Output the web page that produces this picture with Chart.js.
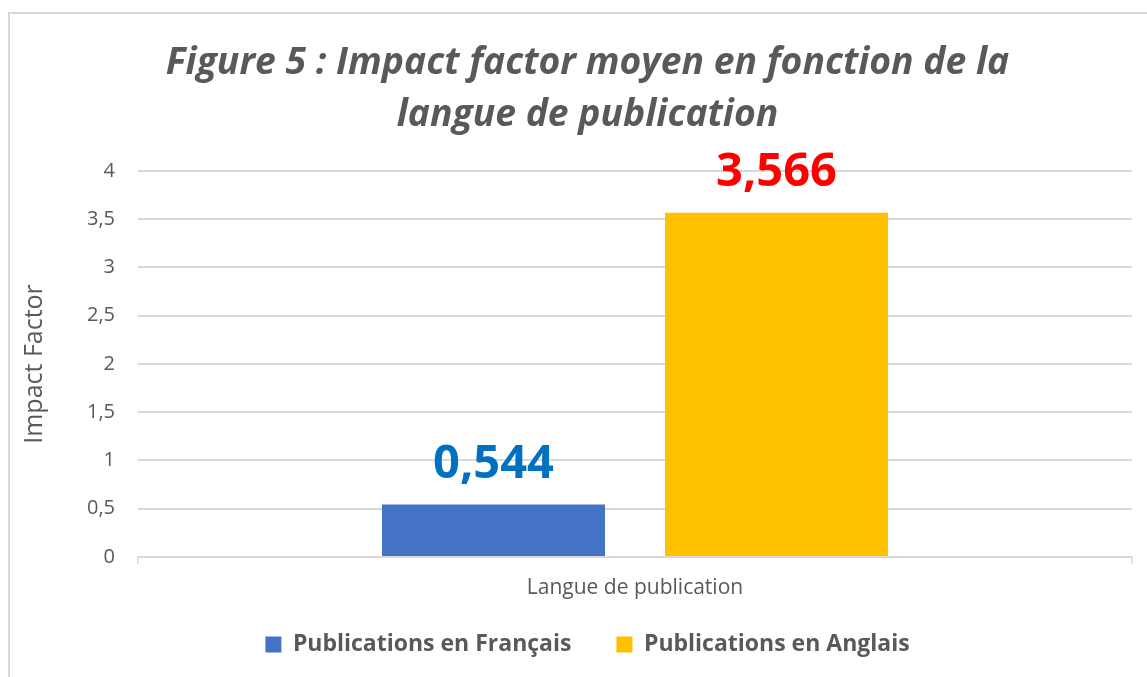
<!DOCTYPE html>
<html>
<head>
<meta charset="utf-8">
<script src="https://cdn.jsdelivr.net/npm/chart.js@4"></script>
<style>
  html, body { margin:0; padding:0; background:#fff; overflow:hidden; width:1147px; height:677px; }
  #frame { position:absolute; left:8px; top:12px; width:2000px; height:2000px; border-left:2px solid #d9d9d9; border-top:2px solid #d9d9d9; }
  #wrap { position:absolute; left:0; top:0; width:1168px; height:677px; }
</style>
</head>
<body>
<div id="frame"></div>
<div id="wrap"><canvas id="c" width="1168" height="677"></canvas></div>
<script>
const categories = ['Langue de publication'];
const seriesNames = ['Publications en Français', 'Publications en Anglais'];
const francaisValues = [0.544];
const anglaisValues = [3.566];
const seriesColors = ['#4472C4', '#FFC000'];
const labelColors = ['#0070C0', '#FF0000'];
const yMin = 0, yMax = 4, yStep = 0.5;
const titleLines = ['Figure 5 : Impact factor moyen en fonction de la', 'langue de publication'];
const yTitle = 'Impact Factor';

const fmt = v => String(v).replace('.', ',');

const valueLabels = {
  id: 'valueLabels',
  afterDatasetsDraw(chart) {
    const ctx = chart.ctx;
    ctx.save();
    ctx.font = 'bold 47px "Open Sans"';
    ctx.textAlign = 'center';
    ctx.textBaseline = 'middle';
    chart.data.datasets.forEach((ds, i) => {
      const meta = chart.getDatasetMeta(i);
      meta.data.forEach((bar, j) => {
        ctx.fillStyle = labelColors[i];
        ctx.fillText(fmt(ds.data[j]), bar.x, bar.y - 40);
      });
    });
    ctx.restore();
  }
};

new Chart(document.getElementById('c'), {
  type: 'bar',
  data: {
    labels: categories,
    datasets: [
      { label: seriesNames[0], data: francaisValues, backgroundColor: seriesColors[0] },
      { label: seriesNames[1], data: anglaisValues, backgroundColor: seriesColors[1] }
    ]
  },
  options: {
    responsive: false,
    animation: false,
    categoryPercentage: 0.5694,
    barPercentage: 0.788,
    layout: { padding: { left: 43, right: 36, top: 0, bottom: 11 } },
    plugins: {
      title: {
        display: true,
        text: titleLines,
        color: '#595959',
        font: { family: 'Open Sans', size: 37.3, weight: 'bold', style: 'italic', lineHeight: 1.38 },
        padding: { top: 38, bottom: 30 }
      },
      legend: {
        position: 'bottom',
        labels: {
          color: '#595959',
          font: { family: 'Open Sans', size: 23, weight: 'bold' },
          boxWidth: 16, boxHeight: 16,
          padding: 45
        }
      },
      tooltip: { enabled: false }
    },
    scales: {
      x: {
        afterFit(scale) { scale.height = 31; },
        grid: { display: true, drawOnChartArea: false, drawTicks: true, tickLength: 7, color: '#d9d9d9', lineWidth: 1.5 },
        border: { display: true, color: '#d9d9d9', width: 2 },
        ticks: { display: false },
        title: { display: true, text: categories[0], color: '#595959', font: { family: 'Open Sans', size: 21 }, padding: { top: 0, bottom: -13 } }
      },
      y: {
        min: yMin, max: yMax,
        afterFit(scale) { scale.width = 95; },
        ticks: { stepSize: yStep, color: '#595959', font: { family: 'Open Sans', size: 20 }, padding: 23, callback: v => fmt(v) },
        grid: { color: '#d9d9d9', lineWidth: 2, drawTicks: false },
        border: { display: false },
        title: { display: true, text: yTitle, color: '#595959', font: { family: 'Open Sans', size: 25 }, padding: { top: -23, bottom: 4 } }
      }
    }
  },
  plugins: [valueLabels]
});
</script>
</body>
</html>
